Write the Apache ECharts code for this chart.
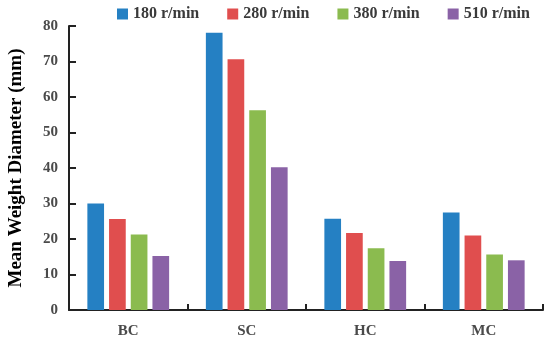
<!DOCTYPE html>
<html><head><meta charset="utf-8">
<script src="https://cdn.jsdelivr.net/npm/echarts@6/dist/echarts.min.js"></script>
<style>html,body{margin:0;padding:0;background:#fff}#c{width:550px;height:344px}</style>
</head><body><div id="c"></div>
<script>
const categories = ['BC','SC','HC','MC'];
const seriesNames = ['180 r/min','280 r/min','380 r/min','510 r/min'];
const s180 = [30.0, 78.1, 25.7, 27.5];
const s280 = [25.6, 70.6, 21.7, 21.0];
const s380 = [21.3, 56.3, 17.4, 15.6];
const s510 = [15.2, 40.2, 13.8, 14.0];
const yTicks = [0,10,20,30,40,50,60,70,80];
const colors = ['#2580c3','#e04e4e','#8bbb4f','#8a62a6'];
const values = [s180, s280, s380, s510];
const font = 'Liberation Serif';
const chart = echarts.init(document.getElementById('c'), null, {renderer:'canvas'});
chart.setOption({
  animation:false,
  color: colors,
  legend:{
    top:1, left:112, itemWidth:11, itemHeight:11, itemGap:28,
    icon:'rect',
    textStyle:{fontFamily:font, fontWeight:'bold', fontSize:16, color:'#3a3a3a'},
    data: seriesNames
  },
  grid:{left:69, right:7, top:26, bottom:34, containLabel:false, outerBoundsMode:'none'},
  xAxis:{
    type:'category', data:categories,
    axisLine:{lineStyle:{color:'#222', width:2}},
    axisTick:{show:true, inside:true, length:6, lineStyle:{color:'#222', width:2}},
    axisLabel:{fontFamily:font, fontWeight:'bold', fontSize:15, color:'#4a4a4a', margin:14}
  },
  yAxis:{
    type:'value', min:yTicks[0], max:yTicks[yTicks.length-1], interval:10,
    name:'Mean Weight Diameter (mm)', nameLocation:'middle', nameGap:43,
    nameTextStyle:{fontFamily:font, fontWeight:'bold', fontSize:19, color:'#000'},
    axisLine:{show:true, lineStyle:{color:'#222', width:2}},
    axisTick:{show:true, inside:true, length:7, lineStyle:{color:'#222', width:2}},
    splitLine:{show:false},
    axisLabel:{fontFamily:font, fontWeight:'bold', fontSize:15, color:'#4a4a4a', margin:11}
  },
  series: seriesNames.map((n,i)=>({
    name:n, type:'bar', data: values[i],
    barGap:'30%', barCategoryGap:'31%',
    itemStyle:{color:colors[i]}
  }))
});
</script></body></html>
